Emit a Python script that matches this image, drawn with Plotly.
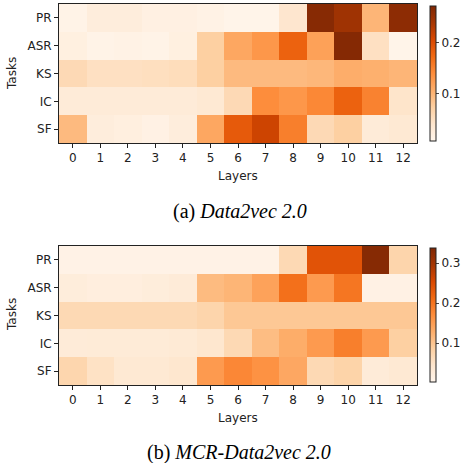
import plotly.graph_objects as go

layers = [str(i) for i in range(13)]
tasks = ["PR", "ASR", "KS", "IC", "SF"]

# (a) Data2vec 2.0
a_PR  = [0.012, 0.025, 0.025, 0.018, 0.018, 0.015, 0.010, 0.010, 0.040, 0.265, 0.245, 0.100, 0.260]
a_ASR = [0.020, 0.012, 0.015, 0.012, 0.020, 0.074, 0.114, 0.130, 0.180, 0.120, 0.267, 0.050, 0.010]
a_KS  = [0.060, 0.050, 0.050, 0.052, 0.055, 0.074, 0.095, 0.095, 0.095, 0.098, 0.108, 0.105, 0.100]
a_IC  = [0.030, 0.030, 0.030, 0.030, 0.030, 0.035, 0.060, 0.140, 0.130, 0.145, 0.180, 0.150, 0.043]
a_SF  = [0.095, 0.025, 0.022, 0.016, 0.025, 0.114, 0.188, 0.214, 0.153, 0.060, 0.074, 0.030, 0.035]

# (b) MCR-Data2vec 2.0
b_PR  = [0.010, 0.010, 0.010, 0.010, 0.010, 0.010, 0.010, 0.010, 0.070, 0.240, 0.240, 0.330, 0.077]
b_ASR = [0.026, 0.022, 0.022, 0.026, 0.030, 0.113, 0.120, 0.144, 0.204, 0.154, 0.197, 0.013, 0.013]
b_KS  = [0.070, 0.070, 0.070, 0.070, 0.070, 0.077, 0.097, 0.097, 0.097, 0.097, 0.097, 0.097, 0.097]
b_IC  = [0.030, 0.032, 0.032, 0.032, 0.035, 0.043, 0.070, 0.110, 0.130, 0.154, 0.187, 0.154, 0.087]
b_SF  = [0.075, 0.053, 0.037, 0.037, 0.043, 0.154, 0.177, 0.164, 0.137, 0.070, 0.080, 0.030, 0.037]

a_z = [a_PR, a_ASR, a_KS, a_IC, a_SF]
b_z = [b_PR, b_ASR, b_KS, b_IC, b_SF]

W, H = 476, 463
font = dict(family="DejaVu Sans", size=12, color="#222")

fig = go.Figure()
fig.add_trace(go.Heatmap(
    z=a_z, x=layers, y=tasks, colorscale="Oranges", zmin=0.008, zmax=0.272,
    xaxis="x", yaxis="y", xgap=0, ygap=0,
    colorbar=dict(x=430/W, xanchor="left", y=1-73.5/H, yanchor="middle",
                  lenmode="pixels", len=135, thickness=6, thicknessmode="pixels",
                  outlinewidth=1, outlinecolor="#222", ticks="outside", ticklen=3,
                  tickvals=[0.1, 0.2], ticktext=["0.1", "0.2"], tickfont=font, xpad=0, ypad=0)))
fig.add_trace(go.Heatmap(
    z=b_z, x=layers, y=tasks, colorscale="Oranges", zmin=0.003, zmax=0.338,
    xaxis="x2", yaxis="y2",
    colorbar=dict(x=430/W, xanchor="left", y=1-315/H, yanchor="middle",
                  lenmode="pixels", len=134, thickness=6, thicknessmode="pixels",
                  outlinewidth=1, outlinecolor="#222", ticks="outside", ticklen=3,
                  tickvals=[0.1, 0.2, 0.3], ticktext=["0.1", "0.2", "0.3"], tickfont=font, xpad=0, ypad=0)))

xd = [59/W, 417/W]
axcommon = dict(showline=True, mirror=True, linecolor="#222", linewidth=1, ticks="outside",
                ticklen=4, tickcolor="#222", tickfont=font, showgrid=False, zeroline=False)
fig.update_layout(
    width=W, height=H, margin=dict(l=0, r=0, t=0, b=0),
    paper_bgcolor="white", plot_bgcolor="white", font=font,
    xaxis=dict(domain=xd, anchor="y", **axcommon),
    yaxis=dict(domain=[1-143/H, 1-4/H], anchor="x", autorange="reversed", **axcommon),
    xaxis2=dict(domain=xd, anchor="y2", **axcommon),
    yaxis2=dict(domain=[1-385/H, 1-246/H], anchor="x2", autorange="reversed", **axcommon),
)

anns = [
    dict(text="Layers", x=238/W, y=1-176/H),
    dict(text="Tasks", x=12/W, y=1-74/H, textangle=-90),
    dict(text="Layers", x=238/W, y=1-418/H),
    dict(text="Tasks", x=12/W, y=1-315/H, textangle=-90),
]
for a in anns:
    fig.add_annotation(xref="paper", yref="paper", showarrow=False, xanchor="center",
                       yanchor="middle", font=font, **a)

cap_font = dict(family="Liberation Serif", size=20, color="black")
fig.add_annotation(text="(a) <i>Data2vec 2.0</i>", xref="paper", yref="paper", x=239.5/W, y=1-211/H,
                   showarrow=False, xanchor="center", yanchor="middle", font=cap_font, borderpad=0)
fig.add_annotation(text="(b) <i>MCR-Data2vec 2.0</i>", xref="paper", yref="paper", x=239/W, y=1-452/H,
                   showarrow=False, xanchor="center", yanchor="middle", font=cap_font, borderpad=0)

fig.write_html("out.html", config={"displayModeBar": False},
               post_script="document.body.style.margin='0';document.body.style.overflow='hidden';")
